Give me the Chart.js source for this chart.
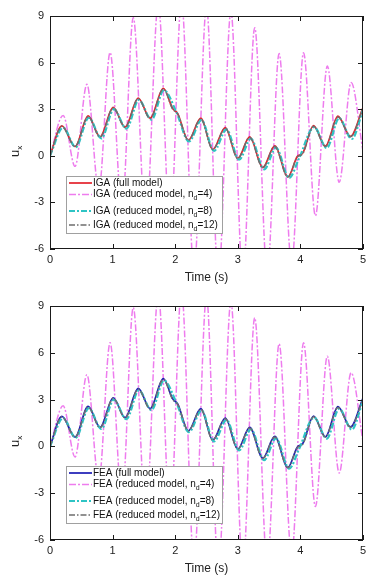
<!DOCTYPE html>
<html><head><meta charset="utf-8">
<script src="https://cdn.jsdelivr.net/npm/chart.js@4"></script>
<style>html,body{margin:0;padding:0;background:#fff;}canvas{display:block;}</style>
</head><body>
<canvas id="c1" width="381" height="290"></canvas>
<canvas id="c2" width="381" height="291"></canvas>
<script>
// ---- data ----
const xTickValues = [0, 1, 2, 3, 4, 5];
const yTickValues = [-6, -3, 0, 3, 6, 9];

// full model
const tFull = [0, 0.19, 0.40, 0.61, 0.80, 1.01, 1.20, 1.41, 1.60, 1.81, 1.96, 2.04, 2.21, 2.41, 2.60, 2.80, 3.00, 3.19, 3.40, 3.59, 3.80, 3.95, 4.04, 4.21, 4.40, 4.60, 4.80, 5.00];
const uFull = [0, 1.93, 0.60, 2.57, 1.22, 3.12, 1.84, 3.72, 2.42, 4.35, 3.05, 2.72, 1.00, 2.42, 0.40, 1.82, -0.17, 1.22, -0.75, 0.64, -1.35, -0.05, 0.20, 1.95, 0.62, 2.55, 1.25, 3.10];
// reduced model nd=12
const tNd12 = [0, 0.19, 0.40, 0.61, 0.80, 1.01, 1.20, 1.41, 1.60, 1.81, 1.96, 2.04, 2.21, 2.41, 2.60, 2.80, 3.00, 3.19, 3.40, 3.59, 3.80, 3.95, 4.04, 4.21, 4.40, 4.60, 4.80, 5.00];
const uNd12 = [0, 1.90, 0.60, 2.52, 1.20, 3.08, 1.82, 3.68, 2.40, 4.30, 3.00, 2.70, 1.00, 2.38, 0.40, 1.78, -0.17, 1.18, -0.77, 0.60, -1.37, -0.08, 0.15, 1.90, 0.60, 2.50, 1.23, 3.05];
// reduced model nd=8
const tNd8 = [0, 0.21, 0.41, 0.62, 0.82, 1.02, 1.22, 1.42, 1.62, 1.82, 2.02, 2.22, 2.42, 2.62, 2.82, 3.02, 3.21, 3.42, 3.61, 3.82, 3.98, 4.22, 4.42, 4.62, 4.82, 5.00];
const uNd8 = [0, 1.82, 0.55, 2.45, 1.12, 3.00, 1.75, 3.60, 2.32, 4.22, 2.80, 0.92, 2.30, 0.32, 1.70, -0.25, 1.10, -0.88, 0.52, -1.42, -0.15, 1.85, 0.50, 2.42, 1.08, 2.95];
// reduced model nd=4
const tNd4 = [0, 0.21, 0.40, 0.59, 0.78, 0.96, 1.15, 1.33, 1.53, 1.73, 1.92, 2.10, 2.30, 2.50, 2.69, 2.89, 3.08, 3.27, 3.47, 3.66, 3.86, 4.05, 4.24, 4.43, 4.62, 4.81, 5.00];
const uNd4 = [0, 2.6, -0.68, 4.6, -2.2, 6.65, -3.4, 8.9, -4.4, 9.8, -4.7, 10.0, -7.4, 9.6, -8.0, 9.3, -8.0, 8.25, -7.6, 6.58, -7.0, 6.64, -3.86, 5.78, -1.71, 4.72, 0.3];

const igaLabels = [['IGA (full model)', '', ''], ['IGA (reduced model, n', 'd', '=4)'], ['IGA (reduced model, n', 'd', '=8)'], ['IGA (reduced model, n', 'd', '=12)']];
const feaLabels = [['FEA (full model)', '', ''], ['FEA (reduced model, n', 'd', '=4)'], ['FEA (reduced model, n', 'd', '=8)'], ['FEA (reduced model, n', 'd', '=12)']];
const xTitle = 'Time (s)';
const yTitle = ['u', 'x'];

// ---- rendering ----
const FONT = 'Liberation Sans';
const pts = (t, v) => t.map((x, i) => ({x, y: v[i]}));

function makeStyles(fullColor) {
  return [
    {color: fullColor, width: 1.7, dash: []},
    {color: '#ee7cee', width: 1.5, dash: [7, 2, 2, 2]},
    {color: '#2ec4c4', width: 2.2, dash: [6, 2, 2, 2]},
    {color: '#6e6e6e', width: 1.5, dash: [6, 2, 1.5, 2]}
  ];
}

const decorPlugin = {
  id: 'decor',
  afterDatasetsDraw(chart) {
    const {ctx, chartArea: a, scales: {x, y}} = chart;
    const st = chart.options.plugins.decor;
    ctx.save();
    // legend box
    const lx = 66, ly = a.top + 160, lw = 156, lh = 57;
    ctx.fillStyle = '#fff';
    ctx.fillRect(lx, ly, lw, lh);
    ctx.strokeStyle = '#a0a0a0';
    ctx.lineWidth = 1;
    ctx.strokeRect(lx + 0.5, ly + 0.5, lw, lh);
    const rows = [7, 18.5, 35, 49];
    st.labels.forEach((lab, i) => {
      const s = st.styles[i];
      const ry = ly + rows[i];
      ctx.strokeStyle = s.color;
      ctx.lineWidth = s.width;
      ctx.setLineDash(s.dash);
      ctx.beginPath();
      ctx.moveTo(lx + 3, ry);
      ctx.lineTo(lx + 26, ry);
      ctx.stroke();
      ctx.setLineDash([]);
      ctx.fillStyle = '#111';
      ctx.textBaseline = 'middle';
      ctx.textAlign = 'left';
      ctx.font = '10px "' + FONT + '"';
      let tx = lx + 27;
      ctx.fillText(lab[0], tx, ry);
      tx += ctx.measureText(lab[0]).width;
      if (lab[1]) {
        ctx.font = '7px "' + FONT + '"';
        ctx.fillText(lab[1], tx, ry + 4);
        tx += ctx.measureText(lab[1]).width;
        ctx.font = '10px "' + FONT + '"';
        ctx.fillText(lab[2], tx, ry);
      }
    });
    // frame
    ctx.strokeStyle = '#1a1a1a';
    ctx.lineWidth = 1;
    ctx.strokeRect(Math.round(a.left) + 0.5, Math.round(a.top) + 0.5, Math.round(a.right - a.left) - 1, Math.round(a.bottom - a.top) - 1);
    ctx.beginPath();
    const tl = 5;
    xTickValues.forEach(v => {
      const px = Math.round(x.getPixelForValue(v)) + 0.5;
      ctx.moveTo(px, a.bottom); ctx.lineTo(px, a.bottom - tl);
      ctx.moveTo(px, a.top); ctx.lineTo(px, a.top + tl);
    });
    yTickValues.forEach(v => {
      const py = Math.round(y.getPixelForValue(v)) + 0.5;
      ctx.moveTo(a.left, py); ctx.lineTo(a.left + tl, py);
      ctx.moveTo(a.right, py); ctx.lineTo(a.right - tl, py);
    });
    ctx.stroke();
    // y-axis title u_x (rotated, slightly below centre as in the reference)
    ctx.translate(19, a.top + 135);
    ctx.rotate(-Math.PI / 2);
    ctx.fillStyle = '#222';
    ctx.textBaseline = 'alphabetic';
    ctx.textAlign = 'left';
    ctx.font = '13px "' + FONT + '"';
    ctx.fillText(yTitle[0], -6, 0);
    const uw = ctx.measureText(yTitle[0]).width;
    ctx.font = '8px "' + FONT + '"';
    ctx.fillText(yTitle[1], -6 + uw, 3);
    ctx.restore();
  }
};

function build(id, fullColor, labels, bottomH) {
  const styles = makeStyles(fullColor);
  const series = [pts(tFull, uFull), pts(tNd4, uNd4), pts(tNd8, uNd8), pts(tNd12, uNd12)];
  const orders = [3, 4, 2, 1];
  const datasets = series.map((d, i) => ({
    data: d,
    borderColor: styles[i].color,
    borderWidth: styles[i].width,
    borderDash: styles[i].dash,
    pointRadius: 0,
    fill: false,
    cubicInterpolationMode: 'monotone',
    order: orders[i]
  }));
  new Chart(document.getElementById(id), {
    type: 'line',
    data: {datasets},
    options: {
      responsive: false,
      animation: false,
      events: [],
      layout: {padding: {left: 0, right: 18, top: 16, bottom: 0}},
      elements: {line: {capBezierPoints: false}},
      plugins: {legend: {display: false}, tooltip: {enabled: false}, decor: {labels, styles}},
      scales: {
        x: {
          type: 'linear', min: 0, max: 5,
          afterFit(s) { s.height = bottomH; },
          grid: {display: false, drawTicks: false},
          border: {display: false},
          afterBuildTicks(s) { s.ticks = xTickValues.map(v => ({value: v})); },
          ticks: {padding: 4, color: '#222', font: {family: FONT, size: 11}, maxRotation: 0, autoSkip: false},
          title: {display: true, text: xTitle, color: '#222', font: {family: FONT, size: 12}, padding: {top: 0, bottom: 5}}
        },
        y: {
          type: 'linear', min: -6, max: 9,
          afterFit(s) { s.width = 50; },
          grid: {display: false, drawTicks: false},
          border: {display: false},
          afterBuildTicks(s) { s.ticks = yTickValues.map(v => ({value: v})); },
          ticks: {padding: 6, color: '#222', font: {family: FONT, size: 11}, autoSkip: false}
        }
      }
    },
    plugins: [decorPlugin]
  });
}

build('c1', '#e3222b', igaLabels, 41);
build('c2', '#1c1cb4', feaLabels, 41);
</script>
</body></html>
